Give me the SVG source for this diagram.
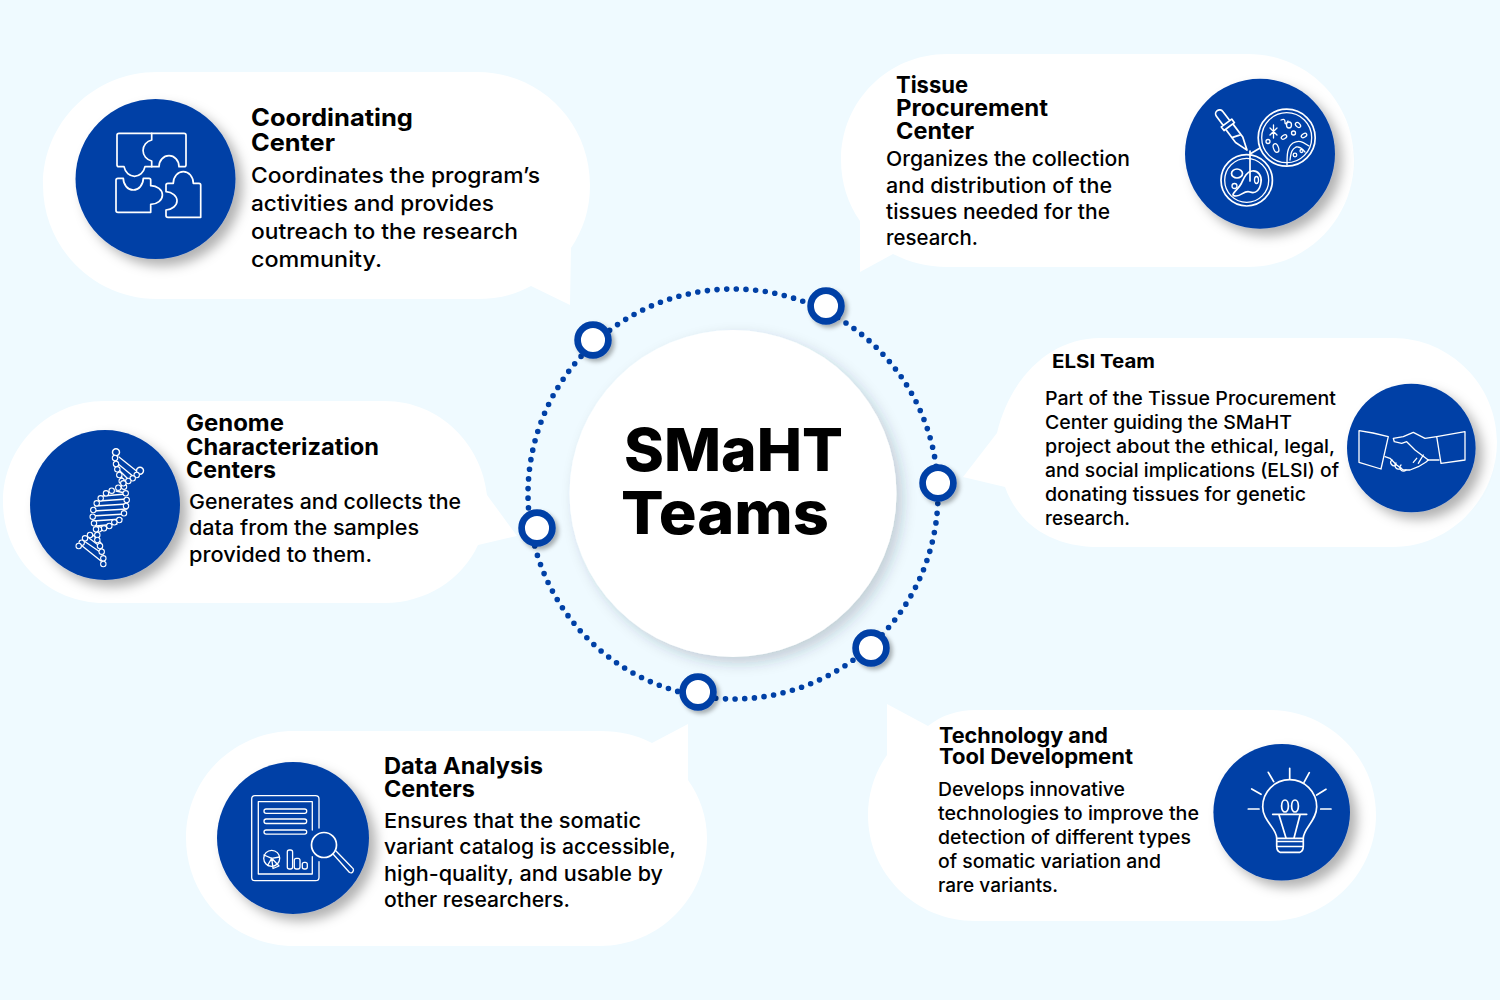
<svg xmlns="http://www.w3.org/2000/svg" width="1500" height="1000" viewBox="0 0 1500 1000">
<defs>
<filter id="sh" x="-30%" y="-30%" width="170%" height="170%"><feDropShadow dx="7" dy="7" stdDeviation="6" flood-color="#000" flood-opacity="0.3"/></filter>
<filter id="shm" x="-20%" y="-20%" width="140%" height="140%"><feDropShadow dx="6" dy="6" stdDeviation="7" flood-color="#1a3a4a" flood-opacity="0.22"/></filter>
<filter id="shr" x="-40%" y="-40%" width="180%" height="180%"><feDropShadow dx="3" dy="3" stdDeviation="2" flood-color="#000" flood-opacity="0.3"/></filter>
<circle id="d" r="2.7"/>
</defs>
<style>
text{font-family:"Inter","Open Sans","Liberation Sans",sans-serif;fill:#000}
.h{font-weight:700}
.b{font-weight:500;transform:translateY(1px)}
.bub{fill:#fff}
.disc{fill:#0040a6;filter:url(#sh)}
.ic{fill:none;stroke:#fff;stroke-width:1.7;stroke-linejoin:round;stroke-linecap:round}
.thin{stroke-width:1.3}
.ring{fill:#fff;stroke:#0040a6;stroke-width:6.7;filter:url(#shr)}
#dna use{fill:#0040a6;stroke:#fff;stroke-width:1.1}
</style>
<rect width="1500" height="1000" fill="#effaff"/>

<g id="connectors">
<circle cx="733" cy="494" r="205" fill="none" stroke="#0040a6" stroke-width="5.6" stroke-linecap="round" stroke-dasharray="0 9.69"/>
<circle class="ring" cx="593" cy="340" r="15.4"/>
<circle class="ring" cx="826" cy="306" r="15.4"/>
<circle class="ring" cx="938" cy="483" r="15.4"/>
<circle class="ring" cx="871" cy="648" r="15.4"/>
<circle class="ring" cx="698" cy="692" r="15.4"/>
<circle class="ring" cx="537" cy="528" r="15.4"/>
</g>

<g id="center">
<circle cx="733" cy="493.500" r="163.500" fill="#fff" filter="url(#shm)"/>
<text x="624" y="471" font-size="59" font-weight="800" textLength="219" lengthAdjust="spacingAndGlyphs">SMaHT</text>
<text x="621" y="534" font-size="59" font-weight="800" textLength="208" lengthAdjust="spacingAndGlyphs">Teams</text>
</g>

<g id="coordinating-center">
<path class="bub" d="M157 72H477C540 72 590 122 590 185C590 210 583 230 571 248L570 305L531 286C515 295 497 299 477 299H157C94 299 43 248 43 185S94 72 157 72Z"/>
<circle class="disc" cx="155.500" cy="179" r="80"/>
<path class="ic" d="M117 135Q117 133.300 119 133.300H151.700V140A10.700 10.700 0 0 0 151.700 161V166.700H145A10.800 12.600 0 0 1 124 166.700H119Q117 166.700 117 165Z"/>
<path class="ic" d="M151.700 133.300H184Q186 133.300 186 135V165Q186 166.700 184 166.700H179A10 11 0 0 0 159 166.700H151.700"/>
<path class="ic" d="M116 180Q116 178.300 118 178.300H123.300A10 11.700 0 0 0 143.300 178.300H149Q150.700 178.300 150.700 180V185.700A11.700 9.300 0 0 1 150.700 204.300V212.300H118Q116 212.300 116 210.500Z"/>
<path class="ic" d="M166 185Q166 183.300 168 183.300H173.300A10 11.700 0 0 1 193.300 183.300H199Q200.700 183.300 200.700 185V217.300H168Q166 217.300 166 215.500V210A12.300 9.200 0 0 0 166 191.700Z"/>
<text class="h" x="251" y="126" font-size="24" textLength="162" lengthAdjust="spacingAndGlyphs">Coordinating</text>
<text class="h" x="251" y="151" font-size="24" textLength="84" lengthAdjust="spacingAndGlyphs">Center</text>
<text class="b" x="251" y="182" font-size="21.500" textLength="289" lengthAdjust="spacingAndGlyphs">Coordinates the program’s</text>
<text class="b" x="251" y="210" font-size="21.500" textLength="243" lengthAdjust="spacingAndGlyphs">activities and provides</text>
<text class="b" x="251" y="238" font-size="21.500" textLength="267" lengthAdjust="spacingAndGlyphs">outreach to the research</text>
<text class="b" x="251" y="266" font-size="21.500" textLength="131" lengthAdjust="spacingAndGlyphs">community.</text>
</g>

<g id="tissue-procurement-center">
<path class="bub" d="M947 54H1248C1307 54 1354 101 1354 160S1307 267 1248 267H947C927 267 909 262 893 254L860 272V221C848 204 841 183 841 160C841 101 888 54 947 54Z"/>
<circle class="disc" cx="1260" cy="153.700" r="75"/>
<circle class="ic" cx="1286.700" cy="137.700" r="28.500"/>
<circle class="ic thin" cx="1286.700" cy="137.700" r="25"/>
<circle class="ic" cx="1246.700" cy="180.300" r="25.700"/>
<circle class="ic thin" cx="1246.700" cy="180.300" r="22"/>
<path class="ic" d="M1250 154L1260 148M1250 151V181"/>
<g transform="translate(1217.500 111) rotate(-37)">
<path class="ic" d="M-4 15V3.500A4 4 0 0 1 4 3.500V15M-6.500 15H6.500V19.500H-6.500ZM-4.500 19.500V36L0 49L4.500 36V19.500M-4.500 30L4.500 33"/>
</g>
<path class="ic" d="M1236 196C1228 196 1238 190 1241 184C1244 178 1246 172 1252 171C1258 170 1262 176 1261 182C1260 190 1256 194 1250 192C1244 190 1242 196 1236 196Z"/>
<ellipse class="ic" cx="1237" cy="173.500" rx="5.500" ry="4.500"/>
<ellipse class="ic thin" cx="1256.500" cy="180" rx="2" ry="3.500"/>
<circle class="ic thin" cx="1234.500" cy="186" r="2.500"/>
<path class="ic thin" d="M1287 165C1287 155 1287 147 1293 143C1300 139 1304 143 1309 146"/>
<path class="ic thin" d="M1290 160C1291 152 1292 149 1296 147C1301 146 1303 150 1305 152"/>
<ellipse class="ic thin" cx="1276" cy="148" rx="2.500" ry="4.500" transform="rotate(-20 1276 148)"/>
<ellipse class="ic thin" cx="1284" cy="137" rx="3" ry="1.800" transform="rotate(-30 1284 137)"/>
<ellipse class="ic thin" cx="1298" cy="125" rx="3" ry="2" transform="rotate(45 1298 125)"/>
<ellipse class="ic thin" cx="1304" cy="135.500" rx="3" ry="1.800" transform="rotate(-30 1304 135.500)"/>
<ellipse class="ic thin" cx="1289" cy="125" rx="2.500" ry="3"/>
<circle class="ic thin" cx="1293.500" cy="133" r="2"/>
<circle class="ic thin" cx="1268" cy="141.500" r="2"/>
<circle class="ic thin" cx="1295" cy="155" r="1.800"/>
<circle class="ic thin" cx="1301.500" cy="151" r="1.500"/>
<path class="ic thin" d="M1281 120Q1285 118 1285 122T1288 121M1270 128L1277 135M1277 128L1270 135M1273.500 125V138"/>
<text class="h" x="896" y="93" font-size="22.500" textLength="72" lengthAdjust="spacingAndGlyphs">Tissue</text>
<text class="h" x="896" y="116" font-size="22.500" textLength="152" lengthAdjust="spacingAndGlyphs">Procurement</text>
<text class="h" x="896" y="139" font-size="22.500" textLength="78" lengthAdjust="spacingAndGlyphs">Center</text>
<text class="b" x="886" y="165" font-size="20.500" textLength="244" lengthAdjust="spacingAndGlyphs">Organizes the collection</text>
<text class="b" x="886" y="192" font-size="20.500" textLength="226" lengthAdjust="spacingAndGlyphs">and distribution of the</text>
<text class="b" x="886" y="218" font-size="20.500" textLength="224" lengthAdjust="spacingAndGlyphs">tissues needed for the</text>
<text class="b" x="886" y="244" font-size="20.500" textLength="92" lengthAdjust="spacingAndGlyphs">research.</text>
</g>

<g id="elsi-team">
<path class="bub" d="M1100 338H1393C1450 338 1497 385 1497 442S1450 547 1393 547H1100C1050 547 1018 523 1005 487L963 477L997 433C1010 378 1050 338 1100 338Z"/>
<circle class="disc" cx="1411.300" cy="448" r="64.300"/>
<path class="ic thin" d="M1359 430.700L1373 433L1388.300 436.700L1381 469L1359 462.300Z"/>
<path class="ic thin" d="M1465 431.700L1436.700 436.700L1441 463.300L1465 460Z"/>
<path class="ic thin" d="M1436.700 436.700L1425 438.300L1413.300 432.300L1403.300 436.700L1393.300 438.300L1394.300 441.700L1401.700 443.300L1406.700 441.700L1415 450L1428.300 460L1439 460"/>
<path class="ic thin" d="M1385 456.700L1390 458.300L1396.700 465L1403.300 470L1410 470L1418.300 466.700L1425.700 462.300L1428.300 460"/>
<path class="ic thin" d="M1413.300 462.300L1416.700 458.300M1418.300 463.300L1423.300 455M1392 460A2.500 2.500 0 0 0 1396 465M1396 463A2.500 2.500 0 0 0 1401 468M1401 465A2.500 2.500 0 0 0 1406 470"/>
<text class="h" x="1052" y="368" font-size="19" textLength="103" lengthAdjust="spacingAndGlyphs">ELSI Team</text>
<text class="b" x="1045" y="404" font-size="18.500" textLength="291" lengthAdjust="spacingAndGlyphs">Part of the Tissue Procurement</text>
<text class="b" x="1045" y="428" font-size="18.500" textLength="247" lengthAdjust="spacingAndGlyphs">Center guiding the SMaHT</text>
<text class="b" x="1045" y="452" font-size="18.500" textLength="290" lengthAdjust="spacingAndGlyphs">project about the ethical, legal,</text>
<text class="b" x="1045" y="476" font-size="18.500" textLength="294" lengthAdjust="spacingAndGlyphs">and social implications (ELSI) of</text>
<text class="b" x="1045" y="500" font-size="18.500" textLength="261" lengthAdjust="spacingAndGlyphs">donating tissues for genetic</text>
<text class="b" x="1045" y="524" font-size="18.500" textLength="85" lengthAdjust="spacingAndGlyphs">research.</text>
</g>

<g id="genome-characterization-centers">
<path class="bub" d="M104 401H385C440 401 482 445 487 495L517 536L478 545C462 580 425 603 385 603H104C48 603 3 558 3 502S48 401 104 401Z"/>
<circle class="disc" cx="105" cy="505" r="75"/>
<g id="dna">
<path class="ic thin" d="M119 457L139 473M117 463L134 477M118 469L129 480M120 475L125 482M116 491L125 493M103 496L126 494M99 501L127 499M95 506L127 504M93 511L127 509M92 516L125 514M93 521L122 519M96 526L117 524M84 541L103 554M89 538L102 548M93 535L101 543M81 545L101 561"/>
<use href="#d" transform="translate(116 452.300) scale(1.300)"/><use href="#d" x="115" y="458"/><use href="#d" x="116" y="464"/><use href="#d" x="117.300" y="469.300"/><use href="#d" x="119.300" y="475"/><use href="#d" x="121.700" y="481"/><use href="#d" x="124" y="486.700"/><use href="#d" x="125.700" y="493.300"/><use href="#d" x="126.700" y="500"/><use href="#d" x="126" y="506"/><use href="#d" x="124" y="513.300"/><use href="#d" x="119.300" y="520"/><use href="#d" x="114.300" y="522.300"/><use href="#d" x="109.300" y="526"/><use href="#d" x="104" y="528.300"/><use href="#d" x="99" y="529.300"/><use href="#d" x="97.300" y="535"/><use href="#d" x="97.300" y="540"/><use href="#d" x="100" y="546"/><use href="#d" x="101.700" y="551.700"/><use href="#d" x="103.300" y="558.300"/><use href="#d" x="103.300" y="564"/>
<use href="#d" transform="translate(140 470.700) scale(1.300)"/><use href="#d" x="136.700" y="475"/><use href="#d" x="132.700" y="478.300"/><use href="#d" x="128.300" y="481"/><use href="#d" x="123.300" y="483.300"/><use href="#d" x="118.300" y="487.700"/><use href="#d" x="111.700" y="490.700"/><use href="#d" x="106" y="493.300"/><use href="#d" x="100.700" y="498.300"/><use href="#d" x="96.700" y="503.300"/><use href="#d" x="93.300" y="510"/><use href="#d" x="92.700" y="516.700"/><use href="#d" x="94" y="523.300"/><use href="#d" x="96" y="529.300"/><use href="#d" x="90" y="535"/><use href="#d" x="85" y="538.300"/><use href="#d" x="81.700" y="542.700"/><use href="#d" x="78.700" y="546"/>
</g>
<text class="h" x="186" y="431" font-size="22.500" textLength="98" lengthAdjust="spacingAndGlyphs">Genome</text>
<text class="h" x="186" y="455" font-size="22.500" textLength="193" lengthAdjust="spacingAndGlyphs">Characterization</text>
<text class="h" x="186" y="478" font-size="22.500" textLength="90" lengthAdjust="spacingAndGlyphs">Centers</text>
<text class="b" x="189" y="508" font-size="20.500" textLength="272" lengthAdjust="spacingAndGlyphs">Generates and collects the</text>
<text class="b" x="189" y="534" font-size="20.500" textLength="230" lengthAdjust="spacingAndGlyphs">data from the samples</text>
<text class="b" x="189" y="561" font-size="20.500" textLength="183" lengthAdjust="spacingAndGlyphs">provided to them.</text>
</g>

<g id="data-analysis-centers">
<path class="bub" d="M294 731H600C620 731 637 735 652 743L688 724V780C700 797 707 817 707 838C707 898 659 946 600 946H294C234 946 186 898 186 838S234 731 294 731Z"/>
<circle class="disc" cx="293" cy="838" r="76"/>
<path class="ic thin" d="M319 828V799Q319 795.700 315.500 795.700H255Q251.700 795.700 251.700 799V877.500Q251.700 880.700 255 880.700H315.500Q319 880.700 319 877.500V861.700"/>
<path class="ic thin" d="M312.300 830V801.700H258.300V874H312.300V856.700"/>
<rect class="ic thin" x="264" y="809" width="42.700" height="4.300" rx="2.100"/>
<rect class="ic thin" x="264" y="819" width="42.700" height="4.500" rx="2.200"/>
<rect class="ic thin" x="264" y="830" width="42.700" height="4.200" rx="2.100"/>
<circle class="ic" cx="324" cy="845" r="12.500"/>
<path class="ic thin" d="M333 854L349.500 872.500Q352.500 874 353.500 870Q353.500 868.500 352 867.500L336 851"/>
<circle class="ic thin" cx="271.700" cy="858.300" r="8"/>
<path class="ic thin" d="M271.700 858.300L279.500 857M271.700 858.300L264 855M271.700 858.300L267.500 865.500M271.700 858.300L273 868.500L279 866Z"/>
<rect class="ic thin" x="287.300" y="850" width="5.300" height="19" rx="2"/>
<rect class="ic thin" x="294.300" y="858.300" width="5.700" height="10.700" rx="2"/>
<rect class="ic thin" x="302.300" y="862.300" width="5" height="6.700" rx="2"/>
<text class="h" x="384" y="774" font-size="22.500" textLength="159" lengthAdjust="spacingAndGlyphs">Data Analysis</text>
<text class="h" x="384" y="797" font-size="22.500" textLength="91" lengthAdjust="spacingAndGlyphs">Centers</text>
<text class="b" x="384" y="827" font-size="20.500" textLength="257" lengthAdjust="spacingAndGlyphs">Ensures that the somatic</text>
<text class="b" x="384" y="853" font-size="20.500" textLength="292" lengthAdjust="spacingAndGlyphs">variant catalog is accessible,</text>
<text class="b" x="384" y="880" font-size="20.500" textLength="279" lengthAdjust="spacingAndGlyphs">high-quality, and usable by</text>
<text class="b" x="384" y="906" font-size="20.500" textLength="186" lengthAdjust="spacingAndGlyphs">other researchers.</text>
</g>

<g id="technology-tool-development">
<path class="bub" d="M975 710H1270C1328 710 1376 757 1376 815S1328 921 1270 921H975C916 921 868 874 868 815C868 793 875 772 887 755V704L928 726C942 715 958 710 975 710Z"/>
<circle class="disc" cx="1281.700" cy="812.300" r="68.300"/>
<path class="ic" d="M1289.700 768.300V779M1268.300 772.300L1273.700 781.700M1309.300 772.700L1304 782.300M1251.700 789L1261 794.300M1326 789.300L1316.700 795M1248.300 809H1259M1320.700 809H1331"/>
<path class="ic" d="M1276.700 838.300C1276.700 828 1262.700 821 1262.700 806.700A27 27 0 0 1 1316.700 806.700C1316.700 821 1303.300 828 1303.300 838.300ZM1276.700 838.300V846Q1276.700 851 1280 852.300H1300Q1303.300 851 1303.300 846V838.300M1276.700 841.500H1303.300M1276.700 846.500H1303.300"/>
<path class="ic" d="M1272.700 814.300H1306.700M1279 815L1286 838M1300 815L1294 838"/>
<ellipse class="ic" cx="1285" cy="806" rx="3.400" ry="6"/>
<ellipse class="ic" cx="1295" cy="806" rx="3.400" ry="6"/>
<text class="h" x="939" y="743" font-size="21" textLength="169" lengthAdjust="spacingAndGlyphs">Technology and</text>
<text class="h" x="939" y="764" font-size="21" textLength="194" lengthAdjust="spacingAndGlyphs">Tool Development</text>
<text class="b" x="938" y="795" font-size="18.500" textLength="187" lengthAdjust="spacingAndGlyphs">Develops innovative</text>
<text class="b" x="938" y="819" font-size="18.500" textLength="261" lengthAdjust="spacingAndGlyphs">technologies to improve the</text>
<text class="b" x="938" y="843" font-size="18.500" textLength="253" lengthAdjust="spacingAndGlyphs">detection of different types</text>
<text class="b" x="938" y="867" font-size="18.500" textLength="223" lengthAdjust="spacingAndGlyphs">of somatic variation and</text>
<text class="b" x="938" y="891" font-size="18.500" textLength="120" lengthAdjust="spacingAndGlyphs">rare variants.</text>
</g>
</svg>
